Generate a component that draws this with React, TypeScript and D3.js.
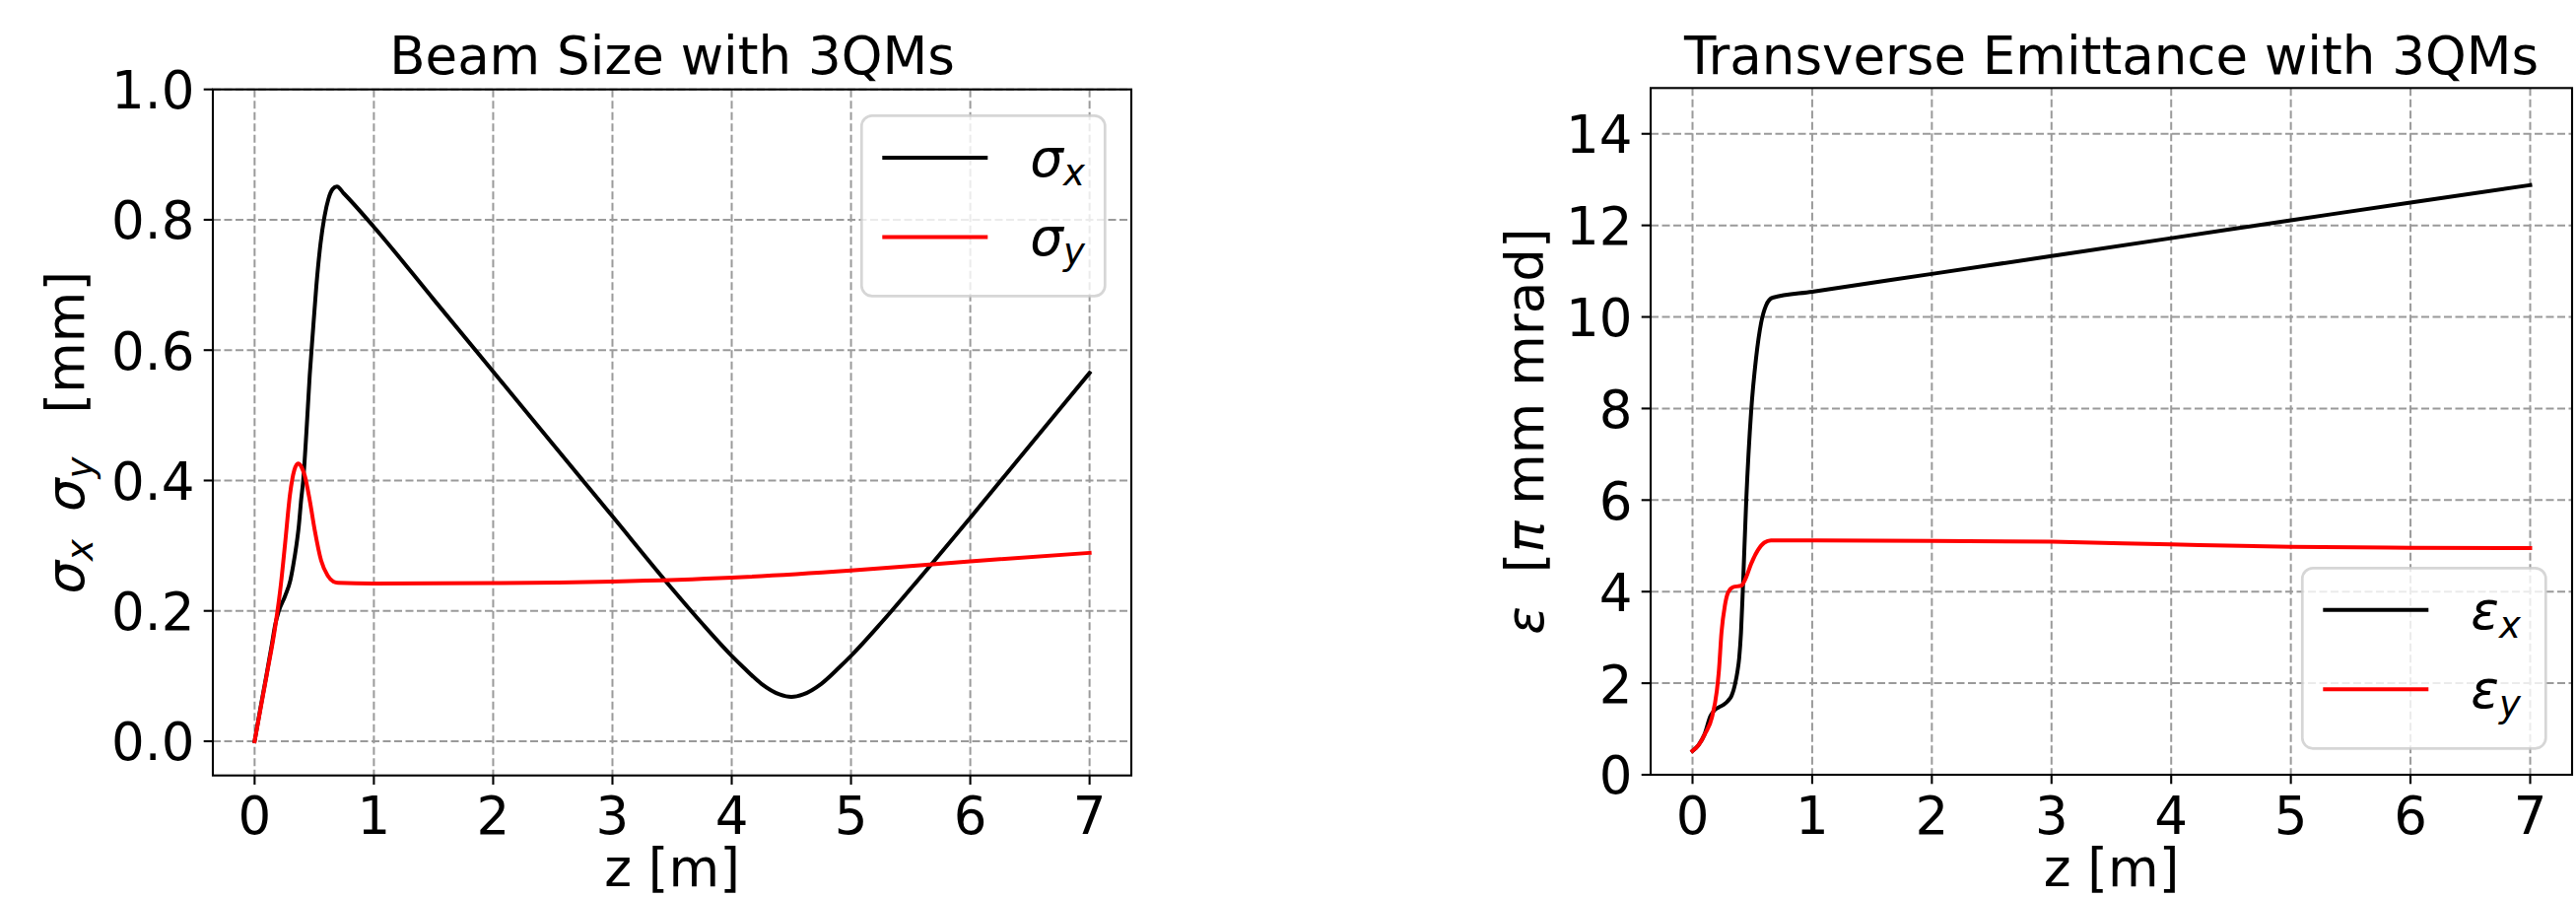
import React from 'react';
import * as d3 from 'd3';

// z positions along the beamline [m] and readings
const zTicks = [0, 1, 2, 3, 4, 5, 6, 7];
const sizeTicks = [0, 0.2, 0.4, 0.6, 0.8, 1.0];
const emitTicks = [0, 2, 4, 6, 8, 10, 12, 14];

// beam size sigma_x [mm]
const sigmaX: [number, number][] = [
    [0, 0], [0.05, 0.052], [0.1, 0.102], [0.146, 0.15], [0.173, 0.179], [0.2, 0.198],
    [0.256, 0.223], [0.3, 0.247], [0.324, 0.27], [0.35, 0.3], [0.371, 0.331],
    [0.39, 0.37], [0.407, 0.399], [0.434, 0.473], [0.462, 0.561], [0.489, 0.629],
    [0.517, 0.697], [0.553, 0.764], [0.586, 0.805], [0.619, 0.832], [0.654, 0.847],
    [0.69, 0.851], [0.75, 0.84], [1, 0.789], [1.5, 0.678], [2, 0.567], [2.5, 0.456],
    [3, 0.345], [3.5, 0.234], [3.75, 0.181], [4, 0.131], [4.1, 0.113], [4.25, 0.088],
    [4.4, 0.072], [4.5, 0.068], [4.6, 0.072], [4.75, 0.088], [4.9, 0.113], [5, 0.131],
    [5.25, 0.181], [5.5, 0.234], [6, 0.343], [6.5, 0.454], [7, 0.565],
];

// beam size sigma_y [mm]
const sigmaY: [number, number][] = [
    [0, 0], [0.1, 0.1], [0.173, 0.176], [0.22, 0.24], [0.256, 0.304], [0.297, 0.379],
    [0.333, 0.416], [0.365, 0.426], [0.395, 0.42], [0.421, 0.407], [0.462, 0.37],
    [0.503, 0.325], [0.558, 0.277], [0.613, 0.254], [0.66, 0.245], [0.7, 0.243],
    [1, 0.242], [2, 0.2425], [3, 0.245], [4, 0.251], [5, 0.262], [6, 0.276], [7, 0.289],
];

// emittance eps_x [pi mm mrad]
const epsX: [number, number][] = [
    [0, 0.52], [0.05, 0.65], [0.1, 0.88], [0.149, 1.28], [0.18, 1.4], [0.217, 1.47],
    [0.26, 1.53], [0.298, 1.62], [0.325, 1.72], [0.343, 1.85], [0.357, 2.0], [0.375, 2.25],
    [0.39, 2.55], [0.405, 3.1], [0.421, 4.08], [0.449, 6.0], [0.49, 7.94], [0.531, 9.1],
    [0.573, 9.87], [0.614, 10.25], [0.669, 10.42], [1, 10.55], [2, 10.94], [3, 11.33],
    [4, 11.72], [5, 12.11], [6, 12.5], [7, 12.88],
];

// emittance eps_y [pi mm mrad]
const epsY: [number, number][] = [
    [0, 0.52], [0.054, 0.66], [0.108, 0.91], [0.163, 1.26], [0.203, 1.83], [0.22, 2.26],
    [0.242, 3.11], [0.27, 3.69], [0.297, 3.98], [0.339, 4.1], [0.407, 4.13], [0.449, 4.32],
    [0.49, 4.61], [0.545, 4.9], [0.6, 5.07], [0.655, 5.12], [1, 5.12], [2, 5.11],
    [3, 5.09], [4, 5.03], [5, 4.98], [6, 4.96], [7, 4.95],
];

const FONT = '"DejaVu Sans", sans-serif';
const FS = 53;
const SUB = 37;
const GRID = '#9a9a9a';

function MathSub({base, sub}) {
    return (
        <>
            <tspan fontStyle="italic">{base}</tspan>
            <tspan fontStyle="italic" fontSize={SUB} dy={9}>{sub}</tspan>
        </>
    );
}

function Panel({cfg}) {
    const {left, right, top, bottom} = cfg;

    const x = d3.scaleLinear().domain([-0.35, 7.35]).range([left, right]);
    const y = d3.scaleLinear().domain(cfg.yDomain).range([bottom, top]);

    const line = d3.line<[number, number]>()
        .x(d => x(d[0]))
        .y(d => y(d[1]))
        .curve(d3.curveMonotoneX);

    // legend frame, anchored at the right side of the axes
    const lw = 247, lh = 183, pad = 26.7;
    const lx = right - pad - lw;
    const ly = cfg.legendLoc === 'upper' ? top + pad : bottom - pad - lh;

    return (
        <g fontFamily={FONT} fontSize={FS} fill="#000">
            {zTicks.map(t => (
                <line key={'gx' + t} x1={x(t)} x2={x(t)} y1={top} y2={bottom}
                      stroke={GRID} strokeWidth={2} strokeDasharray="8,3.5"/>
            ))}
            {cfg.yTicks.map(t => (
                <line key={'gy' + t} x1={left} x2={right} y1={y(t)} y2={y(t)}
                      stroke={GRID} strokeWidth={2} strokeDasharray="8,3.5"/>
            ))}

            {cfg.series.map(s => (
                <path key={s.key} d={line(s.data) ?? ''} fill="none" stroke={s.color}
                      strokeWidth={4} strokeLinejoin="round" strokeLinecap="square"/>
            ))}

            <rect x={left} y={top} width={right - left} height={bottom - top}
                  fill="none" stroke="#000" strokeWidth={2.1}/>

            {zTicks.map(t => (
                <g key={'tx' + t}>
                    <line x1={x(t)} x2={x(t)} y1={bottom} y2={bottom + 9.3} stroke="#000" strokeWidth={2.1}/>
                    <text x={x(t)} y={846} textAnchor="middle">{t}</text>
                </g>
            ))}
            {cfg.yTicks.map(t => (
                <g key={'ty' + t}>
                    <line x1={left - 9.3} x2={left} y1={y(t)} y2={y(t)} stroke="#000" strokeWidth={2.1}/>
                    <text x={left - 18.6} y={y(t) + 19.4} textAnchor="end">{cfg.yFmt(t)}</text>
                </g>
            ))}

            <text x={(left + right) / 2} y={75} textAnchor="middle">{cfg.title}</text>
            <text x={(left + right) / 2} y={899} textAnchor="middle">z [m]</text>

            <text transform={`translate(${cfg.yLabelX},${(top + bottom) / 2}) rotate(-90)`}
                  textAnchor="middle">
                {cfg.yLabel}
            </text>

            <rect x={lx} y={ly} width={lw} height={lh} rx={10.7} ry={10.7}
                  fill="#fff" fillOpacity={0.8} stroke="#cccccc" strokeOpacity={0.8} strokeWidth={2.7}/>
            {cfg.series.map((s, i) => {
                const ry = ly + 42.5 + i * 80.5;
                return (
                    <g key={'lg' + s.key}>
                        <line x1={lx + 21} x2={lx + 128} y1={ry} y2={ry} stroke={s.color} strokeWidth={4}/>
                        <text x={lx + 171} y={ry + 19}>
                            <MathSub base={s.sym} sub={s.sub}/>
                        </text>
                    </g>
                );
            })}
        </g>
    );
}

const f1 = d3.format('.1f');

const leftPanel = {
    left: 216, right: 1148, top: 90.7, bottom: 786.7,
    yDomain: [-0.0525, 1.0],
    yTicks: sizeTicks,
    yFmt: (t: number) => f1(t),
    title: 'Beam Size with 3QMs',
    legendLoc: 'upper',
    yLabelX: 85,
    yLabel: (
        <>
            <MathSub base="σ" sub="x"/>
            <tspan fontStyle="italic" dy={-9} dx={28}>σ</tspan>
            <tspan fontStyle="italic" fontSize={SUB} dy={9}>y</tspan>
            <tspan dy={-9} dx={44}>[mm]</tspan>
        </>
    ),
    series: [
        {key: 'sx', data: sigmaX, color: '#000000', sym: 'σ', sub: 'x'},
        {key: 'sy', data: sigmaY, color: '#ff0000', sym: 'σ', sub: 'y'},
    ],
};

const rightPanel = {
    left: 1675, right: 2610, top: 89.3, bottom: 786,
    yDomain: [0, 15],
    yTicks: emitTicks,
    yFmt: (t: number) => String(t),
    title: 'Transverse Emittance with 3QMs',
    legendLoc: 'lower',
    yLabelX: 1566,
    yLabel: (
        <>
            <tspan fontStyle="italic">ε</tspan>
            <tspan dx={34}>[</tspan>
            <tspan fontStyle="italic">π</tspan>
            <tspan> mm mrad]</tspan>
        </>
    ),
    series: [
        {key: 'ex', data: epsX, color: '#000000', sym: 'ε', sub: 'x'},
        {key: 'ey', data: epsY, color: '#ff0000', sym: 'ε', sub: 'y'},
    ],
};

export default function App() {
    return (
        <svg width={2614} height={910} viewBox="0 0 2614 910"
             style={{position: 'absolute', left: 0, top: 0, background: '#fff'}}>
            <rect x={0} y={0} width={2614} height={910} fill="#fff"/>
            <Panel cfg={leftPanel}/>
            <Panel cfg={rightPanel}/>
        </svg>
    );
}
